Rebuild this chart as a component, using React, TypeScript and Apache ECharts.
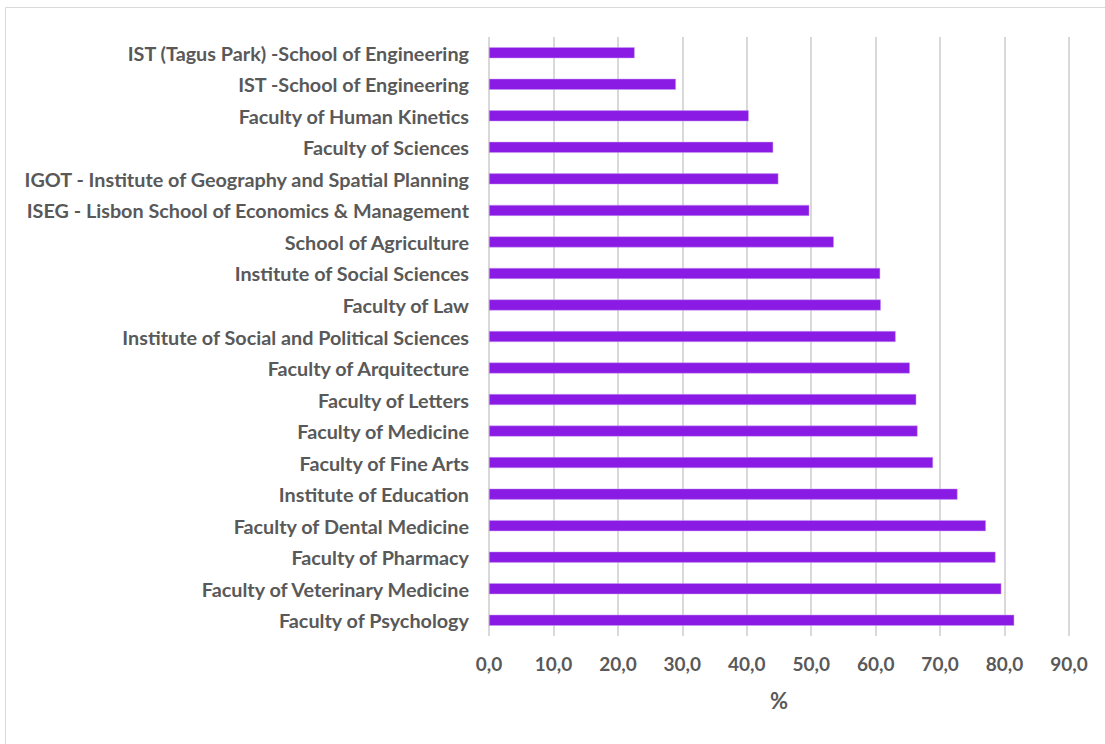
import React, { useEffect, useRef } from "react";
import * as echarts from "echarts";

const categories = [
  "IST (Tagus Park) -School of Engineering",
  "IST -School of Engineering",
  "Faculty of Human Kinetics",
  "Faculty of Sciences",
  "IGOT - Institute of Geography and Spatial Planning",
  "ISEG - Lisbon School of Economics & Management",
  "School of Agriculture",
  "Institute of Social Sciences",
  "Faculty of Law",
  "Institute of Social and Political Sciences",
  "Faculty of Arquitecture",
  "Faculty of Letters",
  "Faculty of Medicine",
  "Faculty of Fine Arts",
  "Institute of Education",
  "Faculty of Dental Medicine",
  "Faculty of Pharmacy",
  "Faculty of Veterinary Medicine",
  "Faculty of Psychology",
];

const values = [
  22.6, 29.0, 40.3, 44.1, 44.9, 49.7, 53.5, 60.7, 60.8, 63.1,
  65.3, 66.3, 66.5, 68.9, 72.7, 77.1, 78.6, 79.5, 81.5,
];

const axisTitle = "%";

export default function App() {
  const ref = useRef<HTMLDivElement>(null);
  useEffect(() => {
    if (!ref.current) return;
    const chart = echarts.init(ref.current, null, { renderer: "svg" });
    const font = "Lato, 'Open Sans', sans-serif";
    chart.setOption({
      animation: false,
      backgroundColor: "#ffffff",
      graphic: [
        {
          type: "rect",
          shape: { x: 5.5, y: 7.5, width: 1110, height: 760 },
          style: { fill: "none", stroke: "#d9d9d9", lineWidth: 1 },
          silent: true,
        },
      ],
      grid: { left: 489, right: 36, top: 37, bottom: 108, containLabel: false },
      xAxis: {
        type: "value",
        min: 0,
        max: 90,
        interval: 10,
        name: axisTitle,
        nameLocation: "middle",
        nameGap: 53,
        nameTextStyle: { color: "#595959", fontSize: 22, fontWeight: "bold", fontFamily: font },
        axisLine: { show: false },
        axisTick: { show: false },
        axisLabel: {
          color: "#595959",
          fontSize: 19,
          fontWeight: "bold",
          fontFamily: font,
          margin: 18,
          formatter: (v: number) => v.toFixed(1).replace(".", ","),
        },
        splitLine: { show: true, lineStyle: { color: "#d9d9d9", width: 2 } },
      },
      yAxis: {
        type: "category",
        data: categories,
        inverse: true,
        axisLine: { show: false },
        axisTick: { show: false },
        axisLabel: {
          color: "#595959",
          fontSize: 19.8,
          fontWeight: "bold",
          fontFamily: font,
          margin: 20,
        },
        splitLine: { show: false },
      },
      series: [
        {
          type: "bar",
          data: values,
          barWidth: 11,
          itemStyle: { color: "#8a1be4", borderColor: "#c9a0f0", borderWidth: 0.5 },
        },
      ],
    });
    return () => chart.dispose();
  }, []);
  return (
    <div
      ref={ref}
      style={{ position: "fixed", left: 0, top: 0, width: 1105, height: 744 }}
    />
  );
}
